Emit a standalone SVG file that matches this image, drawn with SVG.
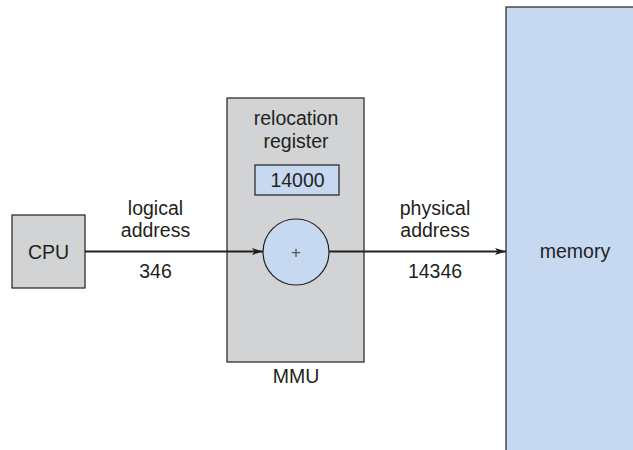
<svg xmlns="http://www.w3.org/2000/svg" width="633" height="450" viewBox="0 0 633 450">
<defs>
<marker id="ah" markerWidth="12" markerHeight="8" refX="11" refY="4" orient="auto" markerUnits="userSpaceOnUse">
<path d="M0,0.5 L11,4 L0,7.5 L2.5,4 Z" fill="#231f20"/>
</marker>
<style>
text{font-family:"Liberation Sans",Arial,sans-serif;font-size:19.5px;fill:#231f20;text-anchor:middle}
.gray{fill:#d1d3d4;stroke:#231f20;stroke-width:1.2}
.blue{fill:#c6d9f0;stroke:#231f20;stroke-width:1.2}
.conn{stroke:#231f20;stroke-width:2;fill:none}
</style>
</defs>
<rect width="633" height="450" fill="#fff"/>
<g id="memory">
<rect class="blue" x="506" y="7" width="140" height="450"/>
<text x="575" y="258">memory</text>
</g>
<g id="mmu">
<rect class="gray" x="227" y="98" width="137" height="264"/>
<text x="296" y="125">relocation</text>
<text x="296" y="148">register</text>
<text x="296" y="383">MMU</text>
</g>
<g id="register">
<rect class="blue" x="255" y="165" width="84" height="30"/>
<text x="297.5" y="187">14000</text>
</g>
<g id="cpu">
<rect class="gray" x="12" y="215" width="73" height="73"/>
<text x="48.5" y="259">CPU</text>
</g>
<g id="adder">
<circle class="blue" cx="296" cy="252" r="33"/>
<text x="296" y="258" style="font-size:17px;fill:#555">+</text>
</g>
<g id="connectors">
<line class="conn" x1="85" y1="251.5" x2="263" y2="251.5" marker-end="url(#ah)"/>
<line class="conn" x1="329" y1="251.5" x2="506" y2="251.5" marker-end="url(#ah)"/>
</g>
<g id="labels">
<text x="155.5" y="215">logical</text>
<text x="155.5" y="237">address</text>
<text x="155.5" y="278">346</text>
<text x="435" y="215">physical</text>
<text x="435" y="237">address</text>
<text x="435" y="278">14346</text>
</g>
</svg>
